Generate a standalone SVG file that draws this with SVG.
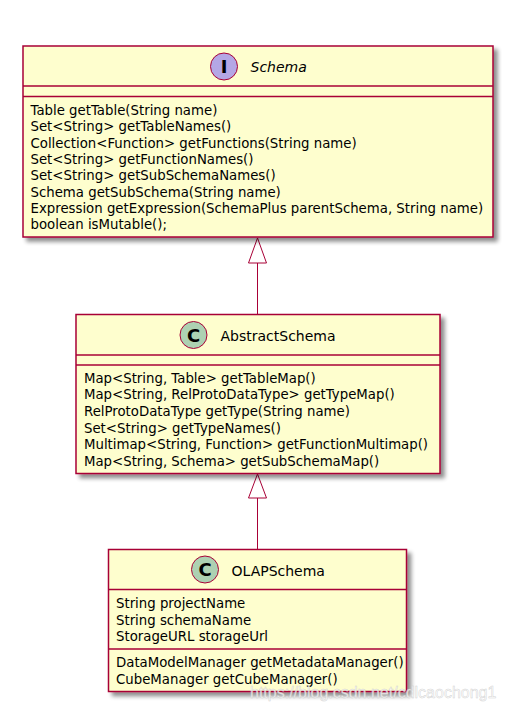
<svg xmlns="http://www.w3.org/2000/svg" width="505" height="711" viewBox="0 0 505 711">
<style>
.box{fill:#FEFECE;stroke:#A80036;stroke-width:1.5}
.sep{stroke:#A80036;stroke-width:1.5}
.t{font-family:"DejaVu Sans","Liberation Sans",sans-serif;font-size:13.3px;fill:#000}
.h{font-family:"DejaVu Sans","Liberation Sans",sans-serif;font-size:14px;fill:#000}
.ic{font-family:"DejaVu Sans","Liberation Sans",sans-serif;font-size:18px;font-weight:bold;fill:#000;text-anchor:middle}
.edge{stroke:#A80036;stroke-width:1;fill:none}
.head{stroke:#A80036;stroke-width:1;fill:#FFFFFF}
</style>
<defs>
<filter id="sh" x="-5%" y="-5%" width="115%" height="115%">
<feGaussianBlur in="SourceAlpha" stdDeviation="2"/>
<feOffset dx="4" dy="4" result="b"/>
<feComponentTransfer><feFuncA type="linear" slope="0.45"/></feComponentTransfer>
<feMerge><feMergeNode/><feMergeNode in="SourceGraphic"/></feMerge>
</filter>
</defs>
<rect width="505" height="711" fill="#FFFFFF"/>
<g id="connectors">
<line class="edge" x1="257.5" y1="263" x2="257.5" y2="314"/>
<polygon class="head" points="257.5,238 248.5,263 266.5,263"/>
<line class="edge" x1="257.5" y1="498" x2="257.5" y2="549"/>
<polygon class="head" points="257.5,474 248.5,498 266.5,498"/>
</g>
<g id="Schema">
<rect class="box" x="23" y="46" width="470" height="191" filter="url(#sh)"/>
<line class="sep" x1="23" y1="86" x2="493" y2="86"/>
<line class="sep" x1="23" y1="96.5" x2="493" y2="96.5"/>
<circle cx="224" cy="66.5" r="13.5" fill="#B4A7E5" stroke="#A80036" stroke-width="1"/>
<text class="ic" x="224" y="73">I</text>
<text class="h" x="250.5" y="72" font-style="italic">Schema</text>
<text class="t" x="30.5" y="115">Table getTable(String name)</text>
<text class="t" x="30.5" y="131.3">Set&lt;String&gt; getTableNames()</text>
<text class="t" x="30.5" y="147.6">Collection&lt;Function&gt; getFunctions(String name)</text>
<text class="t" x="30.5" y="164">Set&lt;String&gt; getFunctionNames()</text>
<text class="t" x="30.5" y="180.3">Set&lt;String&gt; getSubSchemaNames()</text>
<text class="t" x="30.5" y="196.6">Schema getSubSchema(String name)</text>
<text class="t" x="30.5" y="213">Expression getExpression(SchemaPlus parentSchema, String name)</text>
<text class="t" x="30.5" y="229.3">boolean isMutable();</text>
</g>
<g id="AbstractSchema">
<rect class="box" x="76" y="314.5" width="364" height="159" filter="url(#sh)"/>
<line class="sep" x1="76" y1="355" x2="440" y2="355"/>
<line class="sep" x1="76" y1="365" x2="440" y2="365"/>
<circle cx="193.5" cy="335" r="13.5" fill="#ADD1B2" stroke="#A80036" stroke-width="1"/>
<text class="ic" x="193.5" y="341.5">C</text>
<text class="h" x="220.5" y="340.5">AbstractSchema</text>
<text class="t" x="84" y="382.7">Map&lt;String, Table&gt; getTableMap()</text>
<text class="t" x="84" y="399.3">Map&lt;String, RelProtoDataType&gt; getTypeMap()</text>
<text class="t" x="84" y="415.9">RelProtoDataType getType(String name)</text>
<text class="t" x="84" y="432.5">Set&lt;String&gt; getTypeNames()</text>
<text class="t" x="84" y="449.1">Multimap&lt;String, Function&gt; getFunctionMultimap()</text>
<text class="t" x="84" y="465.7">Map&lt;String, Schema&gt; getSubSchemaMap()</text>
</g>
<g id="OLAPSchema">
<rect class="box" x="108.5" y="549.5" width="298" height="142" filter="url(#sh)"/>
<line class="sep" x1="108.5" y1="589.5" x2="406.5" y2="589.5"/>
<line class="sep" x1="108.5" y1="649" x2="406.5" y2="649"/>
<circle cx="205" cy="569.5" r="13.5" fill="#ADD1B2" stroke="#A80036" stroke-width="1"/>
<text class="ic" x="205" y="576">C</text>
<text class="h" x="231.5" y="575.5">OLAPSchema</text>
<text class="t" x="116" y="608.3">String projectName</text>
<text class="t" x="116" y="624.6">String schemaName</text>
<text class="t" x="116" y="640.9">StorageURL storageUrl</text>
<text class="t" x="116" y="667.3">DataModelManager getMetadataManager()</text>
<text class="t" x="116" y="683.6">CubeManager getCubeManager()</text>
</g>
<text x="250" y="698" font-family="'Liberation Sans',Arial,sans-serif" font-size="16" fill="#FFFFFF" fill-opacity="0.75" stroke="#C8C8C8" stroke-width="0.5" stroke-opacity="0.8">https://blog.csdn.net/cdlcaochong1</text>
</svg>
